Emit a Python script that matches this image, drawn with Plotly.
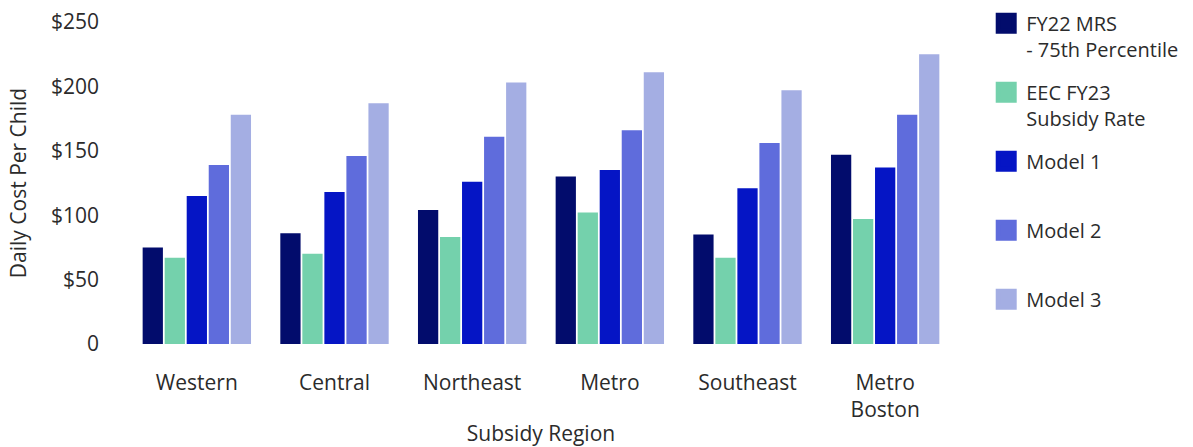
import plotly.graph_objects as go

regions = ["Western", "Central", "Northeast", "Metro", "Southeast", "Metro<br>Boston"]
series_names = ["FY22 MRS<br>- 75th Percentile", "EEC FY23<br>Subsidy Rate", "Model 1<br> ", "Model 2<br> ", "Model 3<br> "]
fy22_mrs = [75, 86, 104, 130, 85, 147]
eec_fy23 = [67, 70, 83, 102, 67, 97]
model_1 = [115, 118, 126, 135, 121, 137]
model_2 = [139, 146, 161, 166, 156, 178]
model_3 = [178, 187, 203, 211, 197, 225]
tick_vals = [0, 50, 100, 150, 200, 250]
tick_text = ["0", "$50", "$100", "$150", "$200", "$250"]

colors = ["#020C6C", "#74D1AC", "#0515C5", "#5F6CDC", "#A4AEE3"]
values = [fy22_mrs, eec_fy23, model_1, model_2, model_3]

fig = go.Figure()
for name, vals, col in zip(series_names, values, colors):
    fig.add_trace(go.Bar(x=regions, y=vals, marker=dict(color=col, line=dict(width=0)),
                         showlegend=False, name=name))
for i, (name, col) in enumerate(zip(series_names, colors)):
    fig.add_trace(go.Scatter(x=[None], y=[None], mode="markers", name=name,
                             marker=dict(symbol="square", size=22, color=col,
                                         line=dict(color=col, width=8)),
                             legendgroup=f"g{i}", showlegend=True))

fam = "'Open Sans', sans-serif"
txt = "#2b2b2b"
font = dict(family=fam, size=21, color=txt)
fig.update_layout(
    width=1193, height=447,
    margin=dict(l=128, r=239, t=22, b=103, autoexpand=False),
    paper_bgcolor="white", plot_bgcolor="white",
    font=font,
    barmode="group", bargap=0.2, bargroupgap=0.08,
    legend=dict(x=1.039, y=1.057, xanchor="left", yanchor="top", itemsizing="trace",
                tracegroupgap=14, font=dict(family=fam, size=20, color=txt),
                bgcolor="rgba(0,0,0,0)", valign="top", maxheight=447),
    xaxis=dict(title=dict(text="Subsidy Region", standoff=8, font=dict(family=fam, size=21, color=txt)),
               showline=False, ticks="", ticklabelstandoff=24, showgrid=False, automargin=False),
    yaxis=dict(title=dict(text="Daily Cost Per Child", standoff=18, font=dict(family=fam, size=21, color=txt)),
               range=[0, 250], tickvals=tick_vals, ticktext=tick_text, showgrid=False,
               zeroline=False, ticks="", ticklabelstandoff=28, automargin=False),
)
fig.write_html("out.html")
